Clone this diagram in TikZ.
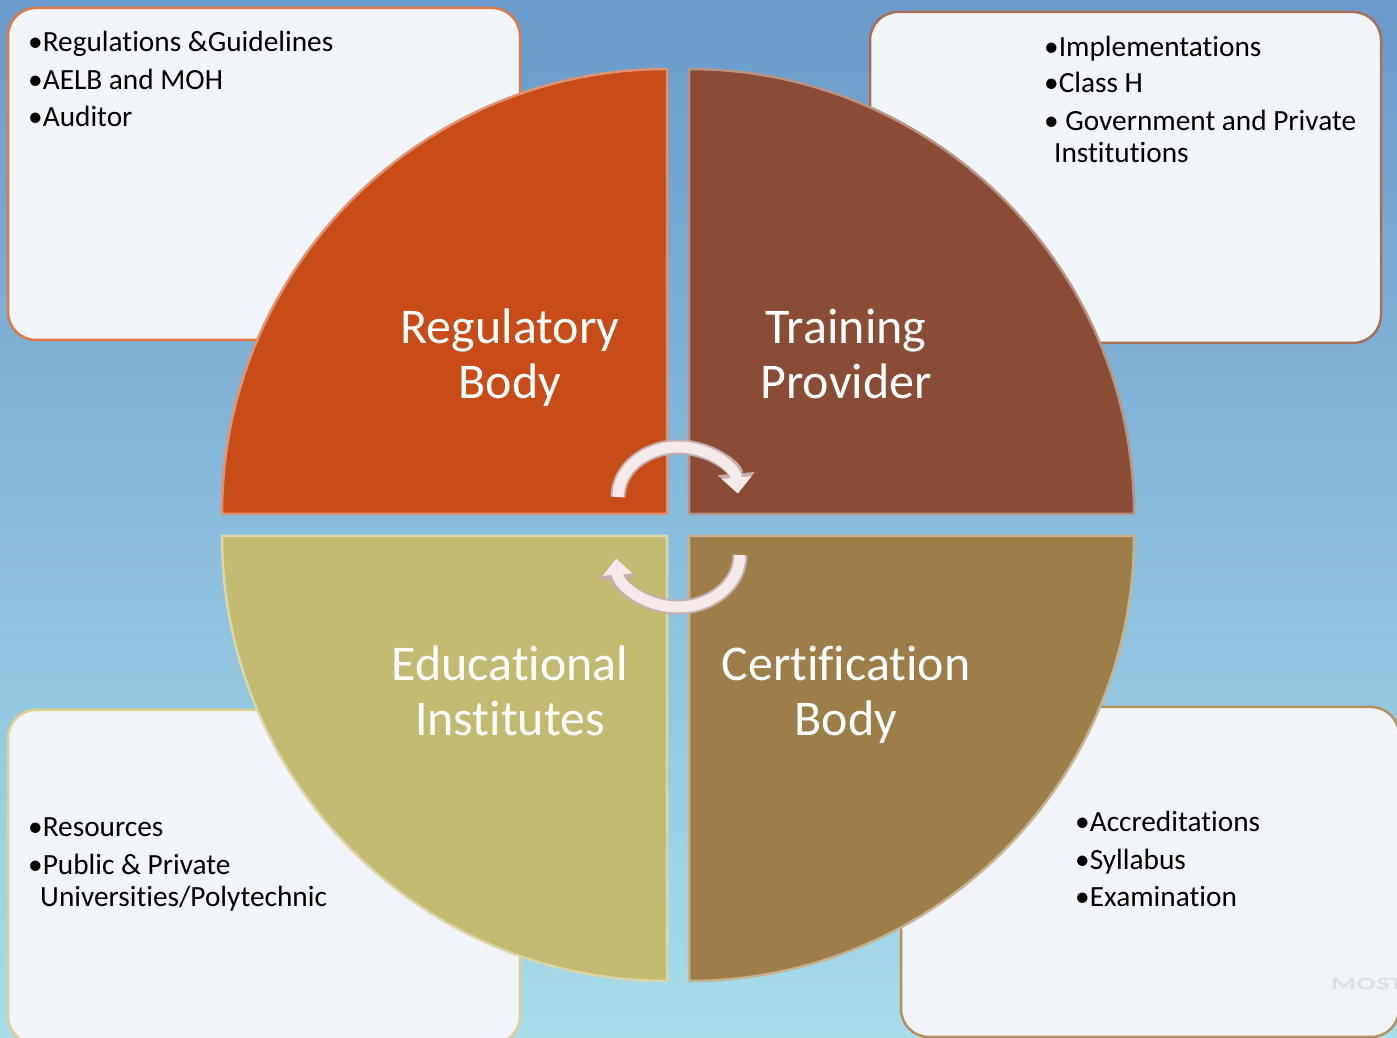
\documentclass[tikz,border=0pt]{standalone}
\usepackage{fontspec}
\setmainfont{Carlito}[Ligatures=NoCommon]
\usetikzlibrary{arrows.meta}
\definecolor{bgtop}{HTML}{6A9ACB}
\definecolor{bgbot}{HTML}{A8DDEA}
\definecolor{regcol}{HTML}{C84C18}
\definecolor{traincol}{HTML}{8A4C34}
\definecolor{certcol}{HTML}{9D7E49}
\definecolor{educol}{HTML}{C3BA71}
\definecolor{boxfill}{HTML}{F1F5F9}
\definecolor{regedge}{HTML}{E07A45}
\definecolor{trainedge}{HTML}{A86E58}
\definecolor{eduedge}{HTML}{DCD28C}
\definecolor{certedge}{HTML}{B4915F}
\definecolor{arrowfill}{HTML}{F4EAEA}
\definecolor{arrowedge}{HTML}{C4AEAE}
\definecolor{wmgray}{HTML}{DCE0E3}
\begin{document}
\begin{tikzpicture}[x=1pt,y=1pt, line join=round,
	infobox/.style={fill=boxfill, line width=2.5pt, rounded corners=28pt},
	boxtext/.style={anchor=base west, inner sep=0pt, align=left, font=\fontsize{29.3}{32}\selectfont},
	quadlabel/.style={anchor=base, inner sep=0pt, align=center, text=white, font=\fontsize{50}{55}\selectfont},
	arrowout/.style={draw=arrowedge, line width=15pt, -{Triangle[width=36pt,length=20pt]}},
	arrowin/.style={draw=arrowfill, line width=11pt, -{Triangle[width=29pt,length=16pt]}}]
	\useasboundingbox (0,0) rectangle (1397,1038);
	\clip (0,0) rectangle (1397,1038);
	\shade[top color=bgtop, bottom color=bgbot] (0,0) rectangle (1397,1038);
	% side boxes
	\draw[infobox, draw=regedge] (8,698) rectangle (520,1030);
	\draw[infobox, draw=trainedge] (870,695) rectangle (1381,1026);
	\draw[infobox, draw=eduedge] (8,-6) rectangle (520,328);
	\draw[infobox, draw=certedge] (901,1) rectangle (1399,331);
	% base anchor = last line
	\node[boxtext] (regnotes) at (28,911) {•Regulations \&Guidelines\\[5.5pt]•AELB and MOH\\[5.5pt]•Auditor};
	\node[boxtext] (trainnotes) at (1044,875) {•Implementations\\[4pt]•Class H\\[6.5pt]• Government and Private\\\hspace*{10pt}Institutions};
	\node[boxtext] (edunotes) at (28,131) {•Resources\\[6pt]•Public \& Private\\\hspace*{12pt}Universities/Polytechnic};
	\node[boxtext] (certnotes) at (1075,131) {•Accreditations\\[5.5pt]•Syllabus\\[5.5pt]•Examination};
	\node[anchor=base west, inner sep=0pt, text=wmgray, font=\fontsize{17}{17}\bfseries\selectfont] (logo) at (1331,48) {\scalebox{1.7}[1]{MOST}};
	% the four quarters
	\foreach \ang/\sx/\sy/\col in {180/-1/1/regcol, 90/1/1/traincol, 0/1/-1/certcol, -90/-1/-1/educol}
		\filldraw[fill=\col, draw=\col!60!white, line width=2.5pt]
			(678+11*\sx,513+11*\sy) -- ++(\ang:445) arc[start angle=\ang, delta angle=-90, radius=445] -- cycle;
	\node[quadlabel] (reg) at (510,639) {Regulatory\\Body};
	\node[quadlabel] (train) at (846,639) {Training\\Provider};
	\node[quadlabel] (edu) at (510,302) {Educational\\Institutes};
	\node[quadlabel] (cert) at (846,302) {Certification\\Body};
	% cycle arrows
	\coordinate (hub) at (678,513);
	\foreach \s in {arrowout, arrowin}{
		\draw[\s] (618,541) arc[start angle=180, end angle=4, x radius=60, y radius=50];
		\draw[\s] (740,483) arc[start angle=0, end angle=-176, x radius=62, y radius=52];
	}
\end{tikzpicture}
\end{document}
